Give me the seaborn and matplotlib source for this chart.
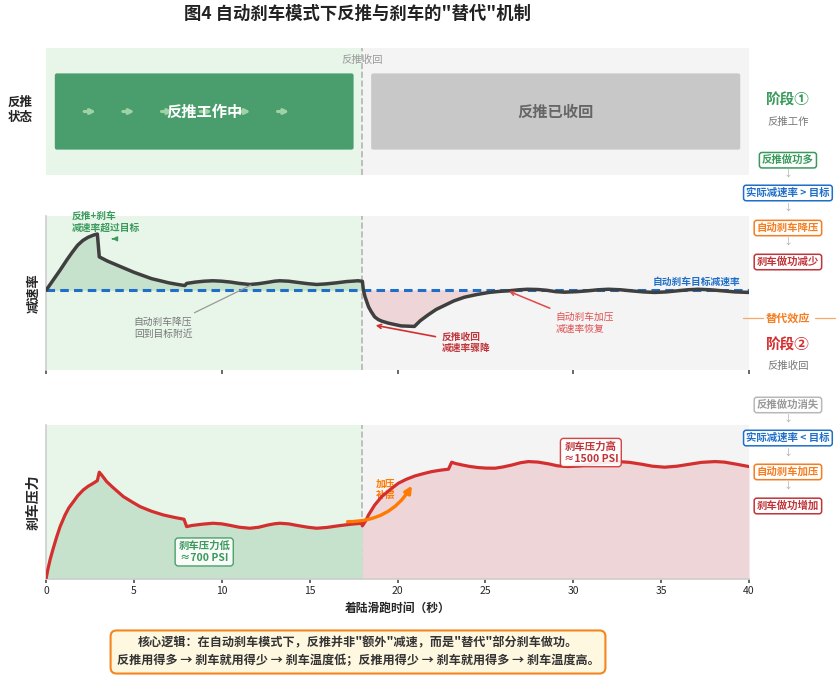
import numpy as np
import pandas as pd
import matplotlib.pyplot as plt
import seaborn as sns
from matplotlib.patches import FancyBboxPatch
from matplotlib.lines import Line2D

# ------------------------------------------------------------------
# 数据
# ------------------------------------------------------------------
decel_t = [0, 0.4, 0.8, 1.2, 1.5, 1.8, 2.1, 2.4, 2.7, 2.92, 3.03, 3.5, 4.0,
           4.5, 5.0, 5.5, 6.0, 6.5, 7.0, 7.5, 7.9, 8.0, 8.5, 9.0, 9.5, 10.0,
           10.5, 11.0, 11.6, 12.1, 12.6, 13.0, 13.3, 13.8, 14.3, 14.9, 15.4,
           15.9, 16.5, 17.1, 17.75, 18.0, 18.06, 18.15, 18.35, 18.5, 18.7,
           18.9, 19.1, 19.5, 20.2, 20.96, 21.3, 21.75, 22.2, 22.7, 23.2, 23.8,
           24.5, 25.2, 25.8, 26.3, 26.9, 27.4, 28.0, 28.5, 29.0, 29.5, 30.2,
           30.8, 31.4, 32.0, 32.7, 33.3, 34.0, 34.65, 35.3, 35.9, 36.5, 37.1,
           37.8, 38.5, 39.2, 40]
decel_v = [3.0, 3.19, 3.38, 3.58, 3.72, 3.85, 3.94, 4.0, 4.04, 4.06, 3.63,
           3.55, 3.48, 3.41, 3.34, 3.28, 3.22, 3.18, 3.14, 3.11, 3.09, 3.13,
           3.155, 3.172, 3.18, 3.172, 3.155, 3.13, 3.11, 3.125, 3.15, 3.172,
           3.18, 3.172, 3.15, 3.125, 3.11, 3.12, 3.14, 3.165, 3.18, 3.17, 3.0,
           2.88, 2.69, 2.6, 2.5, 2.45, 2.42, 2.38, 2.33, 2.32, 2.43, 2.54,
           2.64, 2.72, 2.8, 2.87, 2.92, 2.96, 2.98, 2.99, 3.01, 3.02, 3.015,
           3.0, 2.975, 2.965, 2.975, 2.99, 3.01, 3.02, 3.01, 2.99, 2.97, 2.96,
           2.97, 2.99, 3.01, 3.02, 3.01, 2.99, 2.97, 2.96]
target_decel = 3.0

press_t = [0, 0.1, 0.23, 0.4, 0.61, 0.8, 1.08, 1.3, 1.56, 1.8, 2.12, 2.4,
           2.7, 2.92, 3.03, 3.2, 3.45, 3.8, 4.4, 4.9, 5.35, 6.0, 6.67, 7.3,
           7.85, 8.0, 8.3, 8.9, 9.5, 10.0, 10.5, 11.0, 11.6, 12.1, 12.6, 13.0,
           13.3, 13.8, 14.3, 14.9, 15.4, 16.0, 16.6, 17.3, 17.96, 18.0, 18.2,
           18.35, 18.7, 19.1, 19.6, 20.05, 20.5, 21.0, 21.5, 21.95, 22.4, 22.9,
           23.08, 23.3, 23.65, 24.1, 24.6, 25.05, 25.55, 26.0, 26.5, 27.0,
           27.45, 28.0, 28.6, 29.1, 29.7, 30.4, 31.1, 31.8, 32.55, 33.2, 33.9,
           34.5, 35.2, 35.9, 36.6, 37.3, 38.07, 38.6, 39.3, 40]
press_v = [0, 120, 250, 390, 550, 680, 830, 925, 1005, 1080, 1157, 1205,
           1245, 1278, 1387, 1340, 1265, 1190, 1070, 1000, 940, 880, 832, 800,
           776, 680, 695, 712, 724, 716, 695, 672, 659, 672, 700, 717, 724,
           716, 695, 672, 659, 670, 690, 710, 724, 690, 760, 832, 960, 1070,
           1165, 1244, 1295, 1339, 1370, 1395, 1412, 1426, 1517, 1500, 1482,
           1462, 1447, 1440, 1439, 1455, 1480, 1510, 1525, 1518, 1495, 1470,
           1460, 1470, 1495, 1515, 1525, 1515, 1490, 1465, 1452, 1465, 1490,
           1515, 1525, 1518, 1490, 1460]

reverser_off_t = 18.0
flow_arrow_t = [2.5, 4.7, 6.9, 9.1, 11.3, 13.5]
x_ticks = [0, 5, 10, 15, 20, 25, 30, 35, 40]

# ------------------------------------------------------------------
# 样式
# ------------------------------------------------------------------
sns.set_theme(style='white')
plt.rcParams['font.family'] = ['Noto Sans CJK SC', 'DejaVu Sans']
plt.rcParams['axes.unicode_minus'] = False

GREEN = '#3a9a5c'
GREEN_BOX = '#4a9e6e'
GREEN_BG = '#e8f5e9'
GREEN_FILL = '#c6e2cc'
GRAY_BG = '#f4f4f4'
PINK_FILL = '#eed6d8'
BLUE = '#1f6fc8'
ORANGE = '#f57c1f'
RED = '#d32f2f'
DARK_RED = '#c0353a'
GRAY_TXT = '#777777'
VLINE = '#b5b5b5'

df_dec = pd.DataFrame({'t': decel_t, 'v': decel_v})
df_prs = pd.DataFrame({'t': press_t, 'p': press_v})

fig = plt.figure(figsize=(8.4, 6.76), dpi=100)
fig.patch.set_facecolor('white')

L, W = 0.0548, 0.8369
ax_top = fig.add_axes([L, 0.7411, W, 0.1879])
ax_mid = fig.add_axes([L, 0.4527, W, 0.2278])
ax_bot = fig.add_axes([L, 0.1435, W, 0.2278])

for ax in (ax_top, ax_mid, ax_bot):
    ax.set_xlim(0, 40)
    ax.axvspan(0, reverser_off_t, color=GREEN_BG, lw=0, zorder=0)
    ax.axvspan(reverser_off_t, 40, color=GRAY_BG, lw=0, zorder=0)
    ax.axvline(reverser_off_t, color=VLINE, ls='--', lw=1.2, zorder=1)

# ---------------- 反推状态 ----------------
ax_top.set_ylim(0, 1)
ax_top.axis('off')
ax_top.add_patch(FancyBboxPatch((0.5, 0.2), 17.0, 0.6,
                                boxstyle='round,pad=0,rounding_size=0.12',
                                mutation_aspect=0.13, fc=GREEN_BOX, ec='none', zorder=2))
ax_top.add_patch(FancyBboxPatch((18.5, 0.2), 21.0, 0.6,
                                boxstyle='round,pad=0,rounding_size=0.12',
                                mutation_aspect=0.13, fc='#c8c8c8', ec='none', zorder=2))
for p in flow_arrow_t:
    ax_top.annotate('', xy=(p + 0.33, 0.5), xytext=(p - 0.33, 0.5),
                    arrowprops=dict(arrowstyle='-|>', color='#9fd3a4', lw=2.2,
                                    mutation_scale=7, shrinkA=0, shrinkB=0), zorder=3)
ax_top.text(9.0, 0.5, '反推工作中', ha='center', va='center', color='white',
            fontsize=11, fontweight='bold', zorder=4)
ax_top.text(29.0, 0.5, '反推已收回', ha='center', va='center', color='#666666',
            fontsize=11, fontweight='bold', zorder=4)
ax_top.text(reverser_off_t, 0.905, '反推收回', ha='center', va='center',
            color='#999999', fontsize=7.5, zorder=4)

# ---------------- 减速率 ----------------
t_arr = np.array(decel_t)
v_arr = np.array(decel_v)
ax_mid.set_ylim(1.5, 4.4)
ax_mid.fill_between(t_arr, v_arr, target_decel, where=t_arr <= reverser_off_t,
                    color=GREEN_FILL, lw=0, zorder=1)
ax_mid.fill_between(t_arr, v_arr, target_decel,
                    where=(t_arr >= reverser_off_t) & (v_arr <= target_decel + 0.005),
                    color=PINK_FILL, lw=0, zorder=1)
ax_mid.axhline(target_decel, color=BLUE, ls=(0, (2.8, 1.7)), lw=2.2, zorder=2)
sns.lineplot(data=df_dec, x='t', y='v', ax=ax_mid, color='#3f3f3f', lw=2.5,
             estimator=None, sort=False, zorder=3)

ax_mid.text(1.48, 4.29, '反推+刹车\n减速率超过目标', ha='left', va='center',
            color=GREEN, fontsize=7, fontweight='bold', linespacing=1.15)
ax_mid.annotate('', xy=(3.6, 3.97), xytext=(3.95, 3.97),
                arrowprops=dict(arrowstyle='-|>', color=GREEN, lw=1, mutation_scale=7))
ax_mid.annotate('自动刹车降压\n回到目标附近', xy=(11.8, 3.12), xytext=(6.66, 2.29),
                ha='center', va='center', color=GRAY_TXT, fontsize=7,
                arrowprops=dict(arrowstyle='-', color='#999999', lw=0.9))
ax_mid.annotate('反推收回\n减速率骤降', xy=(18.6, 2.35), xytext=(22.5, 2.02),
                ha='left', va='center', color=DARK_RED, fontsize=7, fontweight='bold',
                arrowprops=dict(arrowstyle='->', color=RED, lw=1.2))
ax_mid.annotate('自动刹车加压\n减速率恢复', xy=(26.2, 3.0), xytext=(29.0, 2.39),
                ha='left', va='center', color='#e05050', fontsize=7,
                arrowprops=dict(arrowstyle='->', color='#e04848', lw=1.1))
ax_mid.text(39.5, 3.16, '自动刹车目标减速率', ha='right', va='center',
            color=BLUE, fontsize=7, fontweight='bold')

ax_mid.set_xticks([0, 10, 20, 30, 40])
ax_mid.set_xticklabels([])
ax_mid.set_yticks([])
ax_mid.tick_params(axis='x', length=3, color='#555555', bottom=True)
ax_mid.set_xlabel('')
ax_mid.set_ylabel('减速率', fontsize=9.5, fontweight='bold', labelpad=4)
for s in ('top', 'right', 'bottom'):
    ax_mid.spines[s].set_visible(False)
ax_mid.spines['left'].set_color('#d0d0d0')

# ---------------- 刹车压力 ----------------
pt = np.array(press_t)
pv = np.array(press_v)
ax_bot.set_ylim(0, 2000)
ax_bot.fill_between(pt, pv, 0, where=pt <= reverser_off_t, color=GREEN_FILL, lw=0, zorder=1)
ax_bot.fill_between(pt, pv, 0, where=pt >= reverser_off_t, color=PINK_FILL, lw=0, zorder=1)
sns.lineplot(data=df_prs, x='t', y='p', ax=ax_bot, color=RED, lw=2.3,
             estimator=None, sort=False, zorder=3)

ax_bot.annotate('', xy=(20.9, 1244), xytext=(17.0, 745),
                arrowprops=dict(arrowstyle='-|>', color='#ff7a00', lw=2.4,
                                mutation_scale=10, connectionstyle='arc3,rad=0.3'),
                zorder=4)
ax_bot.text(19.3, 1160, '加压\n补偿', ha='center', va='center', color='#ff7a00',
            fontsize=7, fontweight='bold', linespacing=1.1, zorder=2)
ax_bot.text(9.0, 351, '刹车压力低\n≈700 PSI', ha='center', va='center',
            color=GREEN, fontsize=7.5, fontweight='bold', zorder=5,
            bbox=dict(boxstyle='round,pad=0.3', fc='white', ec=GREEN, lw=1, alpha=0.9))
ax_bot.text(31.0, 1642, '刹车压力高\n≈1500 PSI', ha='center', va='center',
            color=DARK_RED, fontsize=7.5, fontweight='bold', zorder=5,
            bbox=dict(boxstyle='round,pad=0.3', fc='white', ec=RED, lw=1, alpha=0.9))

ax_bot.set_xticks(x_ticks)
ax_bot.set_xticklabels([str(x) for x in x_ticks], fontsize=7.5)
ax_bot.set_yticks([])
ax_bot.tick_params(axis='x', length=3, color='#555555', bottom=True, pad=2)
ax_bot.set_xlabel('着陆滑跑时间（秒）', fontsize=8.5, fontweight='bold', labelpad=4)
ax_bot.set_ylabel('刹车压力', fontsize=10, fontweight='bold', labelpad=4)
for s in ('top', 'right'):
    ax_bot.spines[s].set_visible(False)
ax_bot.spines['left'].set_color('#d0d0d0')
ax_bot.spines['bottom'].set_color('#d0d0d0')

# ---------------- 标题与侧栏 ----------------
fig.text(0.426, 0.979, '图4 自动刹车模式下反推与刹车的"替代"机制', ha='center',
         va='center', fontsize=12.5, fontweight='bold', color='#222222')
fig.text(0.024, 0.837, '反推\n状态', ha='center', va='center', fontsize=9,
         fontweight='bold', color='#222222', linespacing=1.2)

SX = 0.938


def side_box(y, txt, col, tcol=None):
    fig.text(SX, y, txt, ha='center', va='center', fontsize=7.5, fontweight='bold',
             color=tcol or col,
             bbox=dict(boxstyle='round,pad=0.25', fc='white', ec=col, lw=1.1))


def side_arrow(y):
    fig.text(SX, y, '↓', ha='center', va='center', fontsize=6.5, color='#aaaaaa')


fig.text(SX, 0.852, '阶段①', ha='center', va='center', fontsize=10.5,
         fontweight='bold', color=GREEN)
fig.text(SX, 0.8195, '反推工作', ha='center', va='center', fontsize=7.5, color=GRAY_TXT)
side_box(0.763, '反推做功多', GREEN)
side_arrow(0.7426)
side_box(0.7145, '实际减速率 > 目标', BLUE)
side_arrow(0.692)
side_box(0.6627, '自动刹车降压', ORANGE)
side_arrow(0.642)
side_box(0.6124, '刹车做功减少', DARK_RED)

fig.text(SX, 0.5296, '替代效应', ha='center', va='center', fontsize=8,
         fontweight='bold', color=ORANGE)
fig.add_artist(Line2D([743 / 840, 763 / 840], [0.5296, 0.5296], color='#f7a866', lw=0.9))
fig.add_artist(Line2D([815 / 840, 835 / 840], [0.5296, 0.5296], color='#f7a866', lw=0.9))

fig.text(SX, 0.4896, '阶段②', ha='center', va='center', fontsize=10.5,
         fontweight='bold', color=RED)
fig.text(SX, 0.4586, '反推收回', ha='center', va='center', fontsize=7.5, color=GRAY_TXT)
side_box(0.4009, '反推做功消失', '#b8b8b8', '#999999')
side_arrow(0.380)
side_box(0.352, '实际减速率 < 目标', BLUE)
side_arrow(0.330)
side_box(0.3018, '自动刹车加压', ORANGE)
side_arrow(0.281)
side_box(0.2515, '刹车做功增加', DARK_RED)

# ---------------- 底部说明 ----------------
fig.text(358 / 840, 1 - 652 / 676,
         '核心逻辑：在自动刹车模式下，反推并非"额外"减速，而是"替代"部分刹车做功。\n'
         '反推用得多 → 刹车就用得少 → 刹车温度低；反推用得少 → 刹车就用得多 → 刹车温度高。',
         ha='center', va='center', fontsize=8.7, fontweight='bold', color='#333333',
         linespacing=1.5,
         bbox=dict(boxstyle='round,pad=0.5', fc='#fff8e1', ec='#f5861f', lw=1.5))

fig.savefig('out.png', dpi=100)
